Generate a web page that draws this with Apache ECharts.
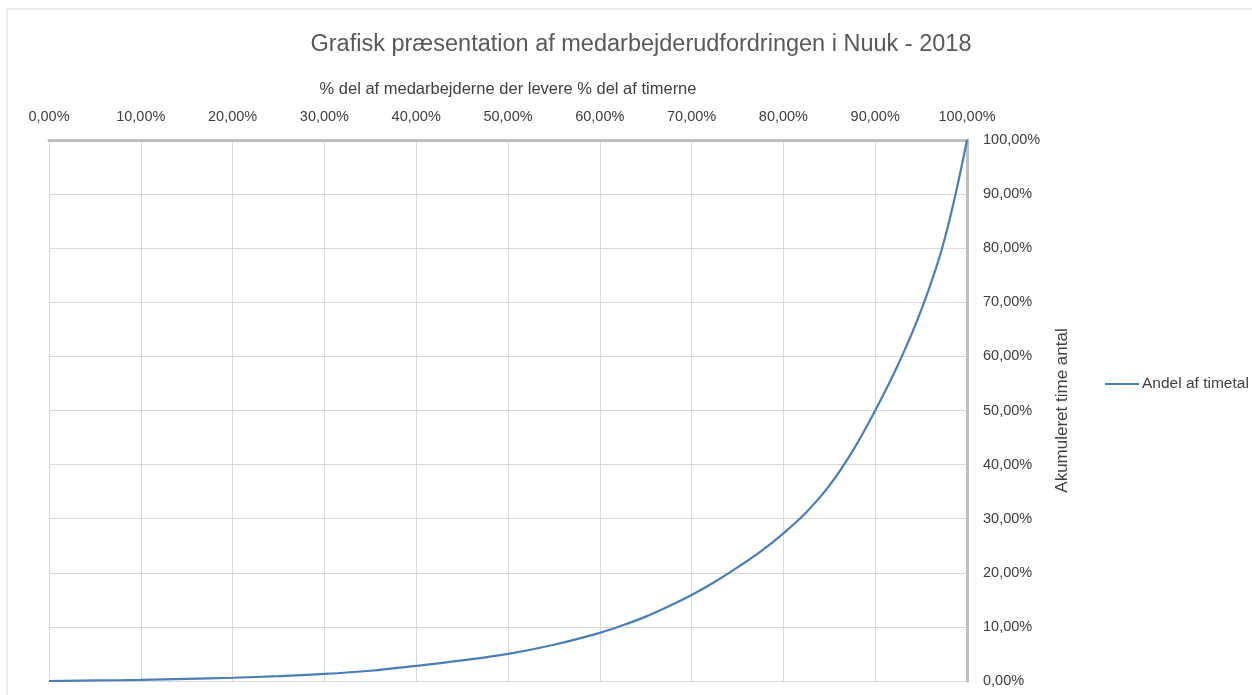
<!DOCTYPE html>
<html>
<head>
<meta charset="utf-8">
<script src="https://cdn.jsdelivr.net/npm/echarts@6/dist/echarts.min.js"></script>
<style>
  html, body { margin: 0; padding: 0; background: #fff; }
  #chart { width: 1252px; height: 695px; }
</style>
</head>
<body>
<div id="chart"></div>
<script>
// andel af medarbejdere (%) og akkumuleret andel af timer (%)
var medarbejdere = [0, 5, 10, 15, 20, 25, 30, 35, 40, 45, 50, 55, 60, 62.5, 65, 67.5, 70, 72.5, 75, 77.5, 80, 82.5, 85, 87.5, 90, 92.5, 95, 97.5, 100];
var timer        = [0, 0.1, 0.2, 0.4, 0.6, 0.9, 1.3, 1.9, 2.8, 3.8, 5.0, 6.7, 8.9, 10.3, 11.9, 13.8, 15.9, 18.3, 21.0, 23.9, 27.3, 31.2, 36.1, 42.4, 50.0, 58.5, 68.5, 81.3, 100];
var seriesName = 'Andel af timetal';

var data = [];
for (var i = 0; i < medarbejdere.length; i++) {
    data.push([medarbejdere[i], timer[i]]);
}

function pct(v) {
    return v.toFixed(2).replace('.', ',') + '%';
}

var chart = echarts.init(document.getElementById('chart'));
var txt = '#595959';
var dark = '#404040';
var font = 'Liberation Sans, Arial, sans-serif';
var option = {
    backgroundColor: '#fff',
    animation: false,
    title: {
        text: 'Grafisk præsentation af medarbejderudfordringen i Nuuk - 2018',
        left: 636,
        textAlign: 'center',
        top: 28,
        textStyle: { color: txt, fontSize: 23.5, fontWeight: 'normal', fontFamily: font }
    },
    legend: {
        data: [seriesName],
        left: 1100,
        top: 371,
        icon: 'rect',
        itemWidth: 34,
        itemHeight: 2,
        itemGap: 4,
        textStyle: { color: dark, fontSize: 15.5, fontFamily: font, padding: [0, 0, 0, -2] }
    },
    grid: { left: 49, right: 285, top: 140, bottom: 14 },
    xAxis: {
        type: 'value',
        position: 'top',
        min: 0,
        max: 100,
        interval: 10,
        name: '% del af medarbejderne der levere % del af timerne',
        nameLocation: 'middle',
        nameGap: 42,
        nameTextStyle: { color: dark, fontSize: 16.5, fontFamily: font },
        axisLine: { onZero: false, lineStyle: { color: '#bfbfbf', width: 3 } },
        axisTick: { show: false },
        axisLabel: { color: dark, fontSize: 14.5, fontFamily: font, margin: 16, formatter: pct },
        splitLine: { show: true, lineStyle: { color: '#d9d9d9', width: 1 } }
    },
    yAxis: {
        type: 'value',
        position: 'right',
        min: 0,
        max: 100,
        interval: 10,
        name: 'Akumuleret time antal',
        nameLocation: 'middle',
        nameRotate: 90,
        nameGap: 87,
        nameTextStyle: { color: dark, fontSize: 17, fontFamily: font },
        axisLine: { show: true, onZero: false, lineStyle: { color: '#bfbfbf', width: 3 } },
        axisTick: { show: false },
        axisLabel: { color: dark, fontSize: 14.5, fontFamily: font, margin: 16, formatter: pct },
        splitLine: { show: true, lineStyle: { color: '#d9d9d9', width: 1 } }
    },
    graphic: [{
        type: 'rect',
        shape: { x: 7, y: 9, width: 1260, height: 700 },
        style: { fill: 'none', stroke: '#d9d9d9', lineWidth: 1 },
        silent: true
    }],
    series: [{
        name: seriesName,
        type: 'line',
        data: data,
        smooth: 0.4,
        showSymbol: false,
        symbol: 'none',
        lineStyle: { color: '#4a7ebb', width: 2.2 },
        itemStyle: { color: '#4a7ebb' }
    }]
};
chart.setOption(option);
</script>
</body>
</html>
